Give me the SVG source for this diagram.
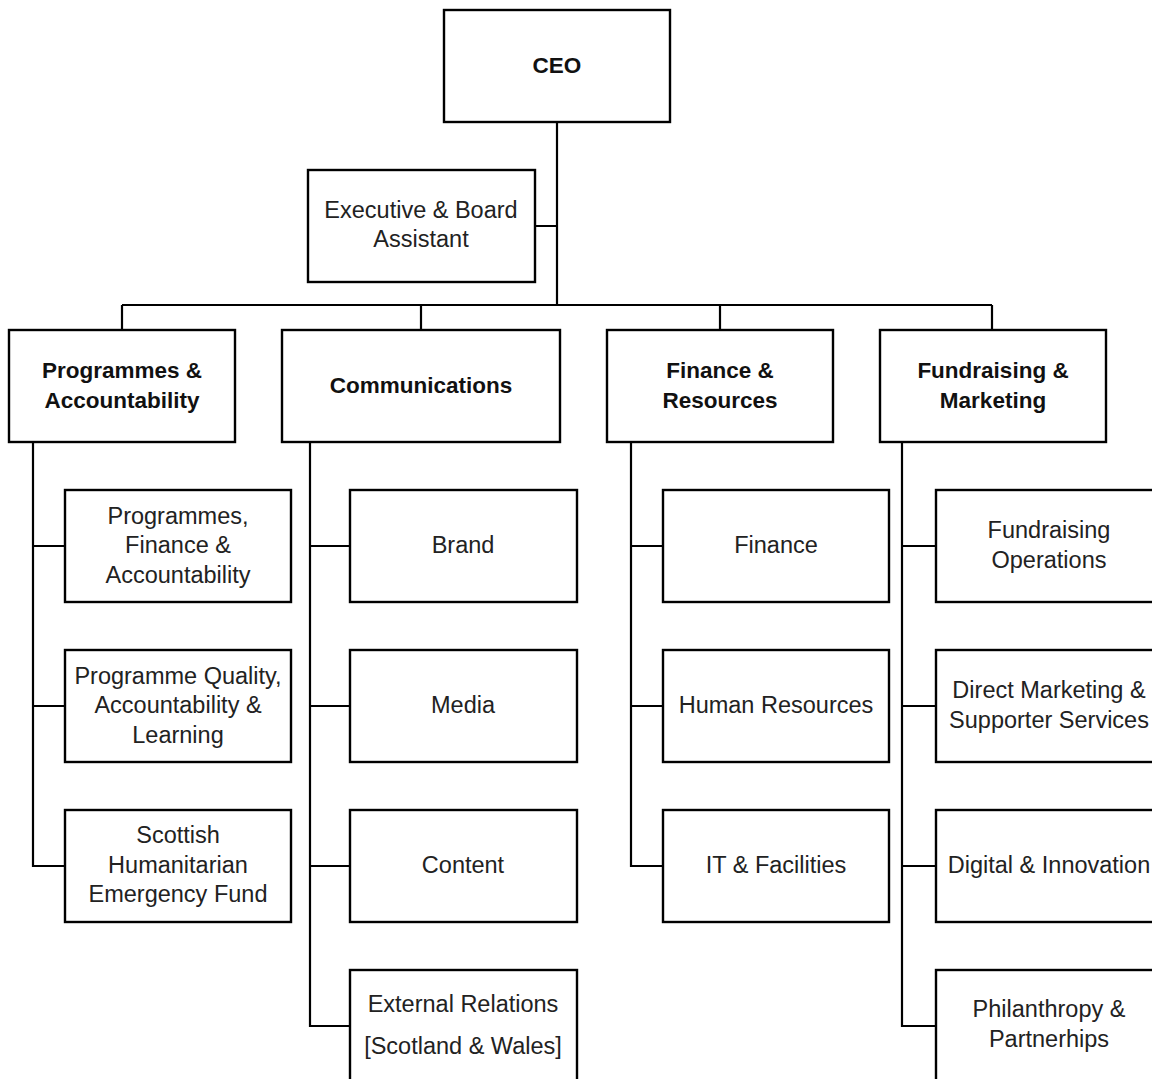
<svg xmlns="http://www.w3.org/2000/svg" width="1152" height="1079" viewBox="0 0 1152 1079">
<style>
.box{fill:#fff;stroke:#000;stroke-width:2.4}
.c{fill:none;stroke:#000;stroke-width:2.2}
text{font-family:"Liberation Sans",Arial,sans-serif;font-size:23.5px;fill:#222;text-anchor:middle;dominant-baseline:central}
.b{font-weight:bold;font-size:22.5px;fill:#111}
</style>
<rect width="1152" height="1079" fill="#fff"/>
<g id="connectors">
<path class="c" d="M557,122V305M535,226H557M122,305H992M122,305V330M421,305V330M720,305V330M992,305V330"/>
<path class="c" d="M33,442V866H65M33,546H65M33,706H65"/>
<path class="c" d="M310,442V1026H350M310,546H350M310,706H350M310,866H350"/>
<path class="c" d="M631,442V866H663M631,546H663M631,706H663"/>
<path class="c" d="M902,442V1026H936M902,546H936M902,706H936M902,866H936"/>
</g>
<g id="ceo"><rect class="box" x="444" y="10" width="226" height="112"/><text class="b" x="557" y="65">CEO</text></g>
<g id="exec"><rect class="box" x="308" y="170" width="227" height="112"/><text x="421" y="210">Executive &amp; Board</text><text x="421" y="239">Assistant</text></g>
<g id="prog"><rect class="box" x="9" y="330" width="226" height="112"/><text class="b" x="122" y="370">Programmes &amp;</text><text class="b" x="122" y="400">Accountability</text></g>
<g id="comms"><rect class="box" x="282" y="330" width="278" height="112"/><text class="b" x="421" y="385">Communications</text></g>
<g id="finres"><rect class="box" x="607" y="330" width="226" height="112"/><text class="b" x="720" y="370">Finance &amp;</text><text class="b" x="720" y="400">Resources</text></g>
<g id="fundmkt"><rect class="box" x="880" y="330" width="226" height="112"/><text class="b" x="993" y="370">Fundraising &amp;</text><text class="b" x="993" y="400">Marketing</text></g>
<g id="pfa"><rect class="box" x="65" y="490" width="226" height="112"/><text x="178" y="516">Programmes,</text><text x="178" y="545">Finance &amp;</text><text x="178" y="575">Accountability</text></g>
<g id="pqal"><rect class="box" x="65" y="650" width="226" height="112"/><text x="178" y="676">Programme Quality,</text><text x="178" y="705">Accountability &amp;</text><text x="178" y="735">Learning</text></g>
<g id="shef"><rect class="box" x="65" y="810" width="226" height="112"/><text x="178" y="835">Scottish</text><text x="178" y="865">Humanitarian</text><text x="178" y="894">Emergency Fund</text></g>
<g id="brand"><rect class="box" x="350" y="490" width="227" height="112"/><text x="463" y="545">Brand</text></g>
<g id="media"><rect class="box" x="350" y="650" width="227" height="112"/><text x="463" y="705">Media</text></g>
<g id="content"><rect class="box" x="350" y="810" width="227" height="112"/><text x="463" y="865">Content</text></g>
<g id="extrel"><rect class="box" x="350" y="970" width="227" height="112"/><text x="463" y="1004">External Relations</text><text x="463" y="1046">[Scotland &amp; Wales]</text></g>
<g id="finance"><rect class="box" x="663" y="490" width="226" height="112"/><text x="776" y="545">Finance</text></g>
<g id="hr"><rect class="box" x="663" y="650" width="226" height="112"/><text x="776" y="705">Human Resources</text></g>
<g id="itf"><rect class="box" x="663" y="810" width="226" height="112"/><text x="776" y="865">IT &amp; Facilities</text></g>
<g id="fops"><rect class="box" x="936" y="490" width="226" height="112"/><text x="1049" y="530">Fundraising</text><text x="1049" y="560">Operations</text></g>
<g id="dmss"><rect class="box" x="936" y="650" width="226" height="112"/><text x="1049" y="690">Direct Marketing &amp;</text><text x="1049" y="720">Supporter Services</text></g>
<g id="digi"><rect class="box" x="936" y="810" width="226" height="112"/><text x="1049" y="865">Digital &amp; Innovation</text></g>
<g id="phil"><rect class="box" x="936" y="970" width="226" height="112"/><text x="1049" y="1009">Philanthropy &amp;</text><text x="1049" y="1039">Partnerhips</text></g>
</svg>
